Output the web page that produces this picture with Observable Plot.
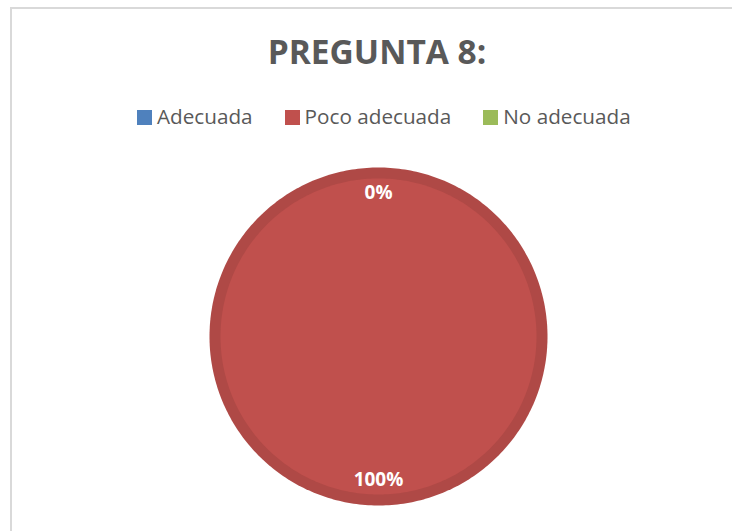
<!DOCTYPE html>
<html>
<head>
<meta charset="utf-8">
<script src="https://cdn.jsdelivr.net/npm/d3@7"></script>
<script src="https://cdn.jsdelivr.net/npm/@observablehq/plot@0.6"></script>
<style>
  html, body { margin: 0; padding: 0; background: #ffffff; width: 732px; height: 531px; overflow: hidden; }
  #frame { position: absolute; left: 10px; top: 7px; width: 760px; height: 560px; border: 2px solid #d9d9d9; box-sizing: border-box; }
  #title { position: absolute; left: 0; width: 754px; top: 35px; text-align: center; font-family: "Open Sans", sans-serif; font-weight: bold; font-size: 33.5px; line-height: 33px; color: #595959; }
  #legend { position: absolute; left: 137px; top: 102px; display: flex; align-items: center; font-family: "Open Sans", sans-serif; font-size: 20.7px; line-height: 28px; color: #595959; }
  .item { display: flex; align-items: center; margin-right: 32px; }
  .sw { width: 15px; height: 15px; margin-right: 5px; margin-top: 3px; }
  #chart { position: absolute; left: 0; top: 140px; }
</style>
</head>
<body>
<div id="frame"></div>
<div id="title"></div>
<div id="legend"></div>
<div id="chart"></div>
<script>
const title = "PREGUNTA 8:";
const categories = ["Adecuada", "Poco adecuada", "No adecuada"];
const values = [0, 100, 0];
const labels = ["0%", "100%", "0%"];
const colors = ["#4f81bd", "#c0504d", "#9bbb59"];

document.getElementById("title").textContent = title;
const legend = document.getElementById("legend");
categories.forEach((c, i) => {
  const it = document.createElement("div");
  it.className = "item";
  const sw = document.createElement("div");
  sw.className = "sw";
  sw.style.background = colors[i];
  const tx = document.createElement("span");
  tx.textContent = c;
  it.appendChild(sw); it.appendChild(tx);
  legend.appendChild(it);
});

const arcs = d3.pie().sort(null).value(d => d)(values).map((a, i) => ({...a, cat: categories[i], label: labels[i]}));

function slicePoints(r) {
  const pts = [];
  arcs.forEach(a => {
    const span = a.endAngle - a.startAngle;
    if (span <= 0) return;
    const n = Math.max(2, Math.ceil(span / (Math.PI / 180)));
    for (let k = 0; k <= n; k++) {
      const t = a.startAngle + span * k / n;
      pts.push({cat: a.cat, x: r * Math.sin(t), y: r * Math.cos(t)});
    }
    if (span < 2 * Math.PI - 1e-9) pts.push({cat: a.cat, x: 0, y: 0});
  });
  return pts;
}

const darker = colors.map(c => d3.color(c).darker(0.26).formatHex());
const mid = a => (a.startAngle + a.endAngle) / 2;
const labelR = 0.85;

const chart = Plot.plot({
  width: 732,
  height: 391,
  marginLeft: 209,
  marginRight: 185,
  marginTop: 27,
  marginBottom: 26,
  x: {domain: [-1, 1], axis: null},
  y: {domain: [-1, 1], axis: null},
  color: {domain: categories, range: colors},
  style: {fontFamily: "Open Sans, sans-serif", background: "transparent"},
  marks: [
    Plot.line(slicePoints(1), {x: "x", y: "y", z: "cat", fill: d => darker[categories.indexOf(d.cat)], stroke: null, curve: "linear-closed"}),
    Plot.line(slicePoints(0.935), {x: "x", y: "y", z: "cat", fill: "cat", stroke: null, curve: "linear-closed"}),
    Plot.text(arcs.filter((a, i, arr) => arr.findIndex(b => Math.abs(mid(b) % (2*Math.PI) - mid(a) % (2*Math.PI)) < 1e-9 && b.label === a.label) === i), {
      x: a => labelR * Math.sin(mid(a)),
      y: a => labelR * Math.cos(mid(a)),
      text: "label",
      fill: "white",
      fontWeight: "bold",
      fontSize: 19
    })
  ]
});
document.getElementById("chart").appendChild(chart);
</script>
</body>
</html>
